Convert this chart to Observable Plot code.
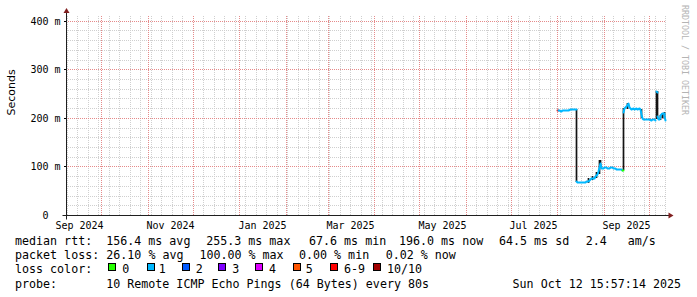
<!DOCTYPE html>
<html><head><meta charset="utf-8">
<script src="https://cdn.jsdelivr.net/npm/d3@7"></script>
<script src="https://cdn.jsdelivr.net/npm/@observablehq/plot@0.6"></script>
<style>
html,body{margin:0;padding:0;background:#fff;}
#wrap{position:relative;width:697px;height:297px;overflow:hidden;background:#fff;}
#chart svg{display:block;}
.lg{position:absolute;font-family:"DejaVu Sans Mono",monospace;font-size:11.66px;line-height:14px;white-space:pre;color:#000;}
.sq{position:absolute;width:6px;height:6px;border:1px solid #000;}
</style></head><body>
<div id="wrap"><div id="chart"></div><div id="legend"></div></div>
<script>
// ---------- data ----------
const endTime = "2025-10-12T15:57:14Z";
const spanDays = 400;
const yTicks = [0, 100, 200, 300, 400];
const yTickLabels = ["0\u00a0\u00a0", "100 m", "200 m", "300 m", "400 m"];
const labelMonths = ["2024-09-01", "2024-11-01", "2025-01-01", "2025-03-01", "2025-05-01", "2025-07-01", "2025-09-01"];
const monthLabels = ["Sep 2024", "Nov 2024", "Jan 2025", "Mar 2025", "May 2025", "Jul 2025", "Sep 2025"];

const lossColors = ["#26ff00", "#00b8ff", "#0059ff", "#7e00ff", "#dd00ff", "#ff5500", "#ff0000", "#a10000"];
const lossLabels = ["0", "1", "2", "3", "4", "5", "6-9", "10/10"];

// median rtt (ms), loss class index, run id
const medianTime = [
  "2025-08-01T00:00", "2025-08-01T20:00",
  "2025-08-01T20:00", "2025-08-02T12:00", "2025-08-03T12:00", "2025-08-04T12:00", "2025-08-05T12:00", "2025-08-06T12:00",
  "2025-08-07T12:00", "2025-08-08T12:00", "2025-08-09T12:00", "2025-08-10T12:00", "2025-08-11T12:00", "2025-08-12T12:00", "2025-08-13T12:00",
  "2025-08-13T20:00", "2025-08-14T12:00", "2025-08-15T12:00", "2025-08-16T12:00", "2025-08-17T12:00", "2025-08-18T12:00",
  "2025-08-19T12:00", "2025-08-20T12:00", "2025-08-21T12:00", "2025-08-22T12:00", "2025-08-23T12:00", "2025-08-24T12:00",
  "2025-08-25T12:00", "2025-08-26T12:00", "2025-08-27T12:00", "2025-08-28T12:00", "2025-08-29T08:00", "2025-08-30T00:00",
  "2025-08-30T12:00", "2025-08-31T12:00", "2025-09-01T12:00", "2025-09-02T12:00", "2025-09-03T12:00", "2025-09-04T12:00",
  "2025-09-05T12:00", "2025-09-06T12:00", "2025-09-07T12:00", "2025-09-08T12:00", "2025-09-09T12:00", "2025-09-10T12:00",
  "2025-09-11T12:00", "2025-09-12T12:00", "2025-09-13T06:00",
  "2025-09-13T06:00", "2025-09-13T16:00",
  "2025-09-13T22:00", "2025-09-14T18:00", "2025-09-15T20:00", "2025-09-17T00:00", "2025-09-18T03:00", "2025-09-19T05:00",
  "2025-09-20T12:00", "2025-09-21T12:00", "2025-09-22T12:00", "2025-09-23T12:00", "2025-09-24T12:00", "2025-09-25T12:00",
  "2025-09-26T00:00", "2025-09-26T12:00", "2025-09-27T12:00", "2025-09-28T12:00", "2025-09-29T12:00", "2025-09-30T12:00",
  "2025-10-01T12:00", "2025-10-02T12:00", "2025-10-03T12:00", "2025-10-04T12:00", "2025-10-05T12:00",
  "2025-10-06T06:00", "2025-10-06T16:00",
  "2025-10-06T22:00", "2025-10-07T10:00", "2025-10-07T22:00", "2025-10-08T10:00", "2025-10-08T22:00", "2025-10-09T12:00",
  "2025-10-10T06:00", "2025-10-11T00:00", "2025-10-11T12:00", "2025-10-12T04:00"
];
const medianMs = [
  217, 217,
  216.5, 216, 215, 215.5, 216, 217, 216.5, 217, 218, 217.5, 218.5, 217.5, 218,
  69, 68, 67.6, 68, 67.6, 68.5, 68, 69, 69, 73, 76, 77,
  76, 80, 84, 90, 108, 99, 96, 97, 99, 98, 96, 97,
  99, 98, 96, 97, 95, 95, 94, 94, 93,
  93, 92.5,
  213, 220, 225, 230, 223, 219, 220, 219, 220, 218.5, 219.5, 218,
  207, 200, 198, 197, 197, 197.5, 197, 196.5, 197, 197, 196.5,
  255, 254,
  203, 198, 197, 201, 206, 209, 210, 211, 203, 196
];
const medianLoss = [
  6, 6,
  1, 1, 1, 1, 1, 1, 1, 1, 1, 1, 1, 1, 1,
  1, 1, 1, 1, 1, 1, 1, 1, 1, 1, 1, 1,
  1, 1, 1, 1, 1, 1, 1, 1, 1, 1, 1, 1,
  1, 1, 1, 1, 1, 1, 1, 1, 1,
  0, 0,
  1, 1, 1, 1, 1, 1, 1, 1, 1, 1, 1, 1,
  1, 1, 1, 1, 1, 1, 1, 1, 1, 1, 1,
  1, 1,
  1, 1, 1, 1, 1, 1, 1, 1, 1, 1
];
const medianRun = [
  0, 0,
  1, 1, 1, 1, 1, 1, 1, 1, 1, 1, 1, 1, 1,
  2, 2, 2, 2, 2, 2, 2, 2, 2, 2, 2, 2,
  2, 2, 2, 2, 2, 2, 2, 2, 2, 2, 2, 2,
  2, 2, 2, 2, 2, 2, 2, 2, 2,
  3, 3,
  4, 4, 4, 4, 4, 4, 4, 4, 4, 4, 4, 4,
  4, 4, 4, 4, 4, 4, 4, 4, 4, 4, 4,
  5, 5,
  6, 6, 6, 6, 6, 6, 6, 6, 6, 6
];

// smoke (spread of individual pings), ms
const smokeTime = ["2025-08-13T16:00", "2025-08-21T18:00", "2025-08-24T06:00", "2025-08-26T18:00", "2025-08-28T18:00",
  "2025-08-29T10:00", "2025-09-13T18:00", "2025-09-16T12:00", "2025-09-25T20:00", "2025-10-06T00:00",
  "2025-10-06T12:00", "2025-10-08T12:00", "2025-10-10T00:00", "2025-10-11T06:00"];
const smokeLo = [68, 66, 72, 76, 84, 96, 92, 219, 199, 197, 197, 196, 199, 198];
const smokeHi = [218, 77, 80, 89, 113, 113, 221, 231, 219, 256, 256, 206, 211, 212];

// legend texts
const rttLabel = "median rtt:";
const rttStats = ["156.4 ms avg", "255.3 ms max", "67.6 ms min", "196.0 ms now", "64.5 ms sd", "2.4   am/s"];
const lossLabel = "packet loss:";
const lossStats = ["26.10 % avg", "100.00 % max", "0.00 % min", "0.02 % now"];
const lossColorLabel = "loss color:";
const probeLabel = "probe:";
const probeText = "10 Remote ICMP Echo Pings (64 Bytes) every 80s";
const stampText = "Sun Oct 12 15:57:14 2025";
const watermark = "RRDTOOL / TOBI OETIKER";
const yLabel = "Seconds";

// ---------- build ----------
const DAY = 864e5;
const end = new Date(endTime);
const start = new Date(+end - spanDays * DAY);
const parseT = s => new Date(s + "Z");

const median = medianTime.map((t, i) => ({t: parseT(t), v: medianMs[i], loss: medianLoss[i], run: medianRun[i]}));
const smoke = smokeTime.map((t, i) => ({t: parseT(t), lo: smokeLo[i], hi: smokeHi[i]}));

const labelDates = labelMonths.map(s => new Date(+new Date(s + "T00:00Z") + 15 * DAY));
const yLabelMap = new Map(yTicks.map((v, i) => [v, yTickLabels[i]]));

const weeks = d3.utcSunday.range(start, end);
const months = d3.utcMonth.range(start, end);
const yMax = 411.9;
const yMinor = d3.range(20, yMax, 20).filter(v => v % 100 !== 0);
const yMajor = yTicks.filter(v => v > 0);

const minorGrid = "#cfcfcf", majorGrid = "#e58a8a";
const vDash = {strokeDasharray: "1,1", strokeDashoffset: 1, shapeRendering: "crispEdges"};
const hDash = {strokeDasharray: "1,1", strokeDashoffset: 0, shapeRendering: "crispEdges"};

const chart = Plot.plot({
  width: 697, height: 236,
  marginLeft: 66, marginRight: 31, marginTop: 15, marginBottom: 21,
  style: {fontFamily: "DejaVu Sans Mono", fontSize: "10px", background: "#fff", color: "#000"},
  x: {type: "utc", domain: [start, end], round: true, axis: null},
  y: {domain: [0, yMax], round: true, ticks: yTicks, tickFormat: d => yLabelMap.get(d), tickSize: 2, tickPadding: 4, label: null},
  color: {type: "identity"},
  marks: [
    Plot.ruleX(weeks, {stroke: minorGrid, ...vDash}),
    Plot.ruleY(yMinor, {stroke: minorGrid, ...hDash}),
    Plot.ruleX(months, {stroke: majorGrid, ...vDash}),
    Plot.ruleY(yMajor, {stroke: majorGrid, ...hDash}),
    Plot.ruleX(smoke, {x: "t", y1: "lo", y2: "hi", stroke: "#141414", strokeWidth: 1.7}),
    Plot.line(median, {x: "t", y: "v", z: "run", stroke: d => lossColors[d.loss], strokeWidth: 2}),
    Plot.text(labelDates, {x: d => d, text: (d, i) => monthLabels[i], frameAnchor: "bottom", lineAnchor: "middle", dy: 10.4, fontSize: 10, fill: "#000"}),
    Plot.text([yLabel], {text: d => d, frameAnchor: "left", rotate: -90, dx: -55, fontFamily: "DejaVu Sans", fontSize: 11, fill: "#000"}),
    Plot.text([watermark], {text: d => d, frameAnchor: "top-right", rotate: 90, textAnchor: "start", dx: 21.7, dy: -10.5, fontFamily: "DejaVu Sans Mono", fontSize: 8.3, fill: "#b4b4b4"})
  ]
});
document.getElementById("chart").appendChild(chart);

// axis lines and arrows (rrdtool style), placed through the plot's scales
const xs = chart.scale("x"), ys = chart.scale("y");
const x0 = xs.range[0] + 0.5, x1 = xs.range[1] + 0.5, y0 = ys.range[0] + 0.5, yT = ys.range[1];
const svg = d3.select(chart);
const g = svg.append("g");
const axisColor = "#1f1f1f", arrowColor = "#801f1f";
g.append("line").attr("x1", x0 - 4).attr("x2", x1 + 4).attr("y1", y0).attr("y2", y0).attr("stroke", axisColor);
g.append("line").attr("x1", x0).attr("x2", x0).attr("y1", y0 + 4).attr("y2", yT - 4).attr("stroke", axisColor);
g.append("path").attr("d", `M${x1 + 2},${y0 - 3}L${x1 + 2},${y0 + 3}L${x1 + 7},${y0}Z`).attr("fill", arrowColor);
g.append("path").attr("d", `M${x0 - 3},${yT - 2}L${x0 + 3},${yT - 2}L${x0},${yT - 7}Z`).attr("fill", arrowColor);

// ---------- legend ----------
const legend = document.getElementById("legend");
const rowTop = [234, 248.2, 262.3, 276.6];
function put(txt, left, top, right) {
  const s = document.createElement("div");
  s.className = "lg";
  s.textContent = txt;
  if (right != null) s.style.right = right + "px"; else s.style.left = left + "px";
  s.style.top = top + "px";
  legend.appendChild(s);
}
const rttX = [106.2, 206.2, 309, 399, 499, 585.7];
put(rttLabel, 15, rowTop[0]);
rttStats.forEach((t, i) => put(t, rttX[i], rowTop[0]));
const lossX = [106.3, 199.4, 299, 385.7];
put(lossLabel, 15, rowTop[1]);
lossStats.forEach((t, i) => put(t, lossX[i], rowTop[1]));
put(lossColorLabel, 15, rowTop[2]);
const sqX = [108, 146.5, 181.5, 218, 255, 292.5, 330, 373];
const sqLabelX = [122.3, 158.7, 195.7, 232.3, 269, 305.7, 344, 387];
lossColors.forEach((c, i) => {
  const b = document.createElement("div");
  b.className = "sq";
  b.style.left = Math.round(sqX[i]) + "px";
  b.style.top = "263px";
  b.style.background = c;
  legend.appendChild(b);
  put(lossLabels[i], sqLabelX[i], rowTop[2]);
});
put(probeLabel, 15, rowTop[3]);
put(probeText, 106.2, rowTop[3]);
put(stampText, null, rowTop[3], 16);
</script></body></html>
